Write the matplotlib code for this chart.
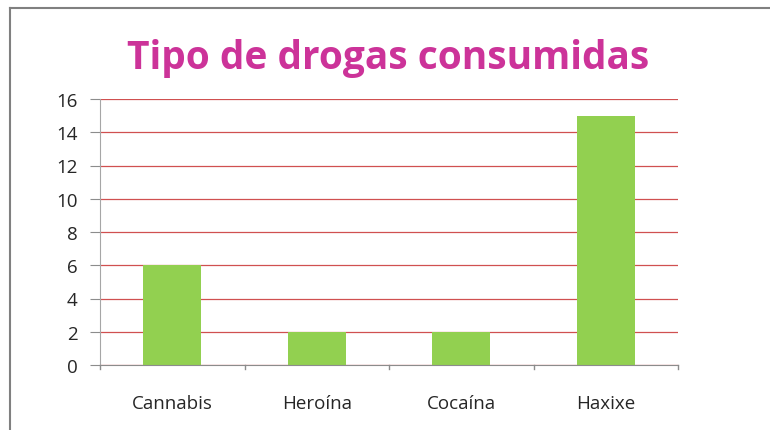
import matplotlib
matplotlib.use("Agg")
import matplotlib.pyplot as plt
from matplotlib.lines import Line2D
import numpy as np

# chart data
categories = ["Cannabis", "Heroína", "Cocaína", "Haxixe"]
values = [6, 2, 2, 15]
y_ticks = [0, 2, 4, 6, 8, 10, 12, 14, 16]

plt.rcParams["font.family"] = ["Open Sans", "DejaVu Sans"]

fig = plt.figure(figsize=(7.7, 4.31), dpi=100)
fig.patch.set_facecolor("white")
ax = fig.add_axes([100 / 770, 1 - 366 / 431, 578 / 770, 266 / 431])

x = np.arange(len(categories))
ax.bar(x, values, width=0.4, color="#92D050", zorder=3)

ax.set_xlim(-0.5, len(categories) - 0.5)
ax.set_ylim(0, 16)
ax.set_yticks(y_ticks)
ax.set_yticklabels([str(t) for t in y_ticks], fontsize=13.5, color="#262626")
ax.yaxis.grid(True, color="#D05050", linewidth=0.9, zorder=0)

ax.set_xticks(x)
ax.set_xticklabels(categories, fontsize=13.5, color="#262626")
ax.tick_params(axis="x", length=0, pad=21)
ax.tick_params(axis="y", length=7, color="#8C8C8C", pad=9)

# category separator ticks below the axis
for b in np.arange(-0.5, len(categories), 1.0):
    ax.plot([b, b], [0, -0.25], color="#8C8C8C", linewidth=1, clip_on=False, zorder=4)

for side in ["top", "right"]:
    ax.spines[side].set_visible(False)
ax.spines["left"].set_color("#A6A6A6")
ax.spines["bottom"].set_color("#8C8C8C")
ax.spines["left"].set_zorder(4)
ax.spines["bottom"].set_zorder(4)

fig.text(388 / 770, 1 - 58 / 431, "Tipo de drogas consumidas", ha="center", va="center",
         fontsize=28, fontweight="bold", color="#CC3399")

# outer frame (top and left only)
fig.add_artist(Line2D([10 / 770, 1], [1 - 9 / 431, 1 - 9 / 431], color="#808080", linewidth=1.5))
fig.add_artist(Line2D([10 / 770, 10 / 770], [0, 1 - 9 / 431], color="#808080", linewidth=1.5))

fig.savefig("out.png", dpi=100, facecolor="white")
